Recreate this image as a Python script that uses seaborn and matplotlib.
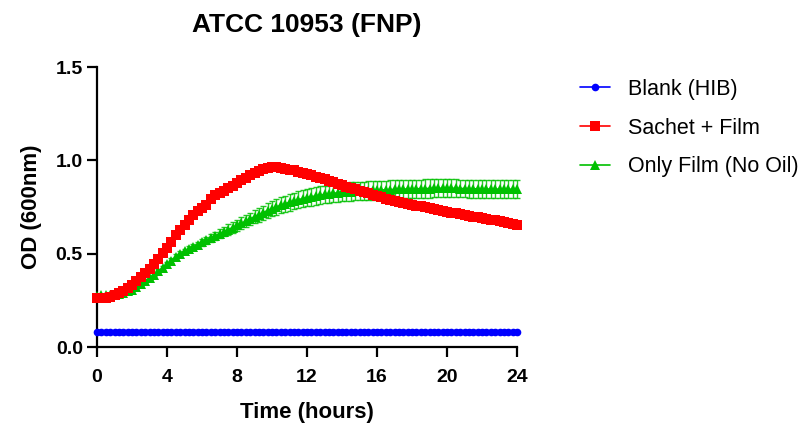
import numpy as np
import pandas as pd
import matplotlib
matplotlib.use("Agg")
import matplotlib.pyplot as plt
import seaborn as sns

# sampling every 15 min over 24 h
hours = np.arange(0, 24.25, 0.25)

blank_hib = [
    0.081, 0.081, 0.080, 0.080, 0.080, 0.080, 0.080, 0.080,
    0.080, 0.080, 0.080, 0.080, 0.080, 0.080, 0.080, 0.080,
    0.080, 0.080, 0.080, 0.080, 0.080, 0.080, 0.080, 0.080,
    0.080, 0.080, 0.080, 0.080, 0.080, 0.080, 0.080, 0.080,
    0.080, 0.080, 0.080, 0.080, 0.080, 0.080, 0.080, 0.080,
    0.080, 0.080, 0.080, 0.080, 0.080, 0.080, 0.080, 0.080,
    0.080, 0.080, 0.080, 0.080, 0.080, 0.080, 0.080, 0.080,
    0.080, 0.080, 0.080, 0.080, 0.080, 0.080, 0.080, 0.080,
    0.080, 0.080, 0.080, 0.080, 0.080, 0.080, 0.080, 0.080,
    0.080, 0.080, 0.080, 0.080, 0.080, 0.080, 0.080, 0.080,
    0.080, 0.080, 0.080, 0.080, 0.080, 0.080, 0.080, 0.080,
    0.080, 0.080, 0.080, 0.080, 0.080, 0.080, 0.080, 0.080,
    0.080,
]

sachet_film = [
    0.262, 0.262, 0.264, 0.270, 0.278, 0.288, 0.300, 0.316,
    0.334, 0.354, 0.375, 0.396, 0.418, 0.444, 0.472, 0.502,
    0.533, 0.565, 0.598, 0.628, 0.655, 0.682, 0.708, 0.728,
    0.742, 0.762, 0.795, 0.812, 0.826, 0.838, 0.850, 0.864,
    0.880, 0.895, 0.908, 0.920, 0.932, 0.943, 0.952, 0.958,
    0.962, 0.962, 0.960, 0.955, 0.950, 0.946, 0.940, 0.933,
    0.926, 0.919, 0.912, 0.905, 0.898, 0.890, 0.882, 0.874,
    0.866, 0.859, 0.852, 0.845, 0.837, 0.830, 0.823, 0.816,
    0.809, 0.802, 0.795, 0.788, 0.781, 0.775, 0.770, 0.766,
    0.762, 0.758, 0.753, 0.748, 0.743, 0.738, 0.733, 0.728,
    0.724, 0.720, 0.716, 0.712, 0.707, 0.703, 0.699, 0.695,
    0.690, 0.686, 0.682, 0.678, 0.673, 0.669, 0.665, 0.660,
    0.655,
]

only_film = [
    0.275, 0.276, 0.277, 0.278, 0.280, 0.284, 0.290, 0.298,
    0.308, 0.320, 0.335, 0.352, 0.370, 0.388, 0.405, 0.424,
    0.442, 0.462, 0.482, 0.498, 0.512, 0.524, 0.537, 0.548,
    0.560, 0.572, 0.584, 0.596, 0.607, 0.618, 0.629, 0.640,
    0.651, 0.662, 0.674, 0.686, 0.698, 0.709, 0.720, 0.731,
    0.741, 0.750, 0.759, 0.767, 0.775, 0.782, 0.789, 0.795,
    0.800, 0.805, 0.809, 0.813, 0.817, 0.820, 0.823, 0.826,
    0.829, 0.831, 0.833, 0.835, 0.836, 0.837, 0.838, 0.839,
    0.840, 0.841, 0.842, 0.843, 0.844, 0.845, 0.846, 0.846,
    0.847, 0.848, 0.848, 0.849, 0.849, 0.850, 0.850, 0.850,
    0.850, 0.850, 0.850, 0.849, 0.849, 0.848, 0.848, 0.847,
    0.847, 0.846, 0.846, 0.846, 0.845, 0.845, 0.845, 0.845,
    0.845,
]

only_film_sd = [
    0.010, 0.010, 0.009, 0.009, 0.009, 0.009, 0.009, 0.009,
    0.009, 0.009, 0.010, 0.010, 0.010, 0.010, 0.011, 0.011,
    0.012, 0.013, 0.014, 0.015, 0.015, 0.016, 0.016, 0.017,
    0.018, 0.019, 0.021, 0.022, 0.024, 0.026, 0.028, 0.030,
    0.031, 0.032, 0.033, 0.034, 0.036, 0.037, 0.038, 0.039,
    0.040, 0.041, 0.042, 0.043, 0.044, 0.045, 0.045, 0.046,
    0.046, 0.047, 0.047, 0.047, 0.048, 0.048, 0.048, 0.048,
    0.048, 0.048, 0.049, 0.049, 0.049, 0.049, 0.049, 0.049,
    0.049, 0.049, 0.049, 0.049, 0.049, 0.049, 0.049, 0.049,
    0.049, 0.049, 0.049, 0.049, 0.049, 0.049, 0.049, 0.049,
    0.049, 0.049, 0.048, 0.048, 0.048, 0.048, 0.048, 0.048,
    0.048, 0.048, 0.048, 0.048, 0.048, 0.048, 0.048, 0.048,
    0.048,
]

df = pd.DataFrame({
    'hours': hours,
    'blank': blank_hib,
    'sachet': sachet_film,
    'film': only_film,
    'film_sd': only_film_sd,
})

sns.set_theme(style='ticks')
plt.rcParams['font.family'] = ['Liberation Sans', 'DejaVu Sans']
plt.rcParams['text.color'] = 'black'
plt.rcParams['axes.labelcolor'] = 'black'
plt.rcParams['xtick.color'] = 'black'
plt.rcParams['ytick.color'] = 'black'

fig = plt.figure(figsize=(8.07, 4.24), dpi=100)
ax = fig.add_axes([97 / 807, 1 - 347 / 424, 420 / 807, 280 / 424])

green = '#00C000'

# Only Film with SD error bars (drawn first, red sits on top)
ax.errorbar(df['hours'], df['film'], yerr=df['film_sd'], fmt='none',
            ecolor=green, elinewidth=1.0, capsize=2.4, capthick=1.0,
            alpha=0.85, clip_on=False, zorder=2)
sns.lineplot(x='hours', y='film', data=df, ax=ax, color=green, marker='^',
             markersize=6.5, markeredgewidth=0, linewidth=1.2,
             label='Only Film (No Oil)', clip_on=False, zorder=3)

sns.lineplot(x='hours', y='sachet', data=df, ax=ax, color='#FF0000', marker='s',
             markersize=6.5, markeredgewidth=0, linewidth=1.2,
             label='Sachet + Film', clip_on=False, zorder=4)

sns.lineplot(x='hours', y='blank', data=df, ax=ax, color='#0000FF', marker='o',
             markersize=5.5, markeredgewidth=0, linewidth=1.2,
             label='Blank (HIB)', clip_on=False, zorder=4)

ax.set_xlim(0, 24)
ax.set_ylim(0, 1.5)
ax.set_xticks([0, 4, 8, 12, 16, 20, 24])
ax.set_yticks([0.0, 0.5, 1.0, 1.5])
ax.set_yticklabels(['0.0', '0.5', '1.0', '1.5'])
sns.despine(ax=ax)
for side in ['left', 'bottom']:
    ax.spines[side].set_linewidth(1.6)
    ax.spines[side].set_color('black')
ax.tick_params(axis='both', length=7.2, width=1.6, color='black',
               labelcolor='black', labelsize=14)
ax.tick_params(axis='x', pad=9)
ax.tick_params(axis='y', pad=3)
for lbl in ax.get_xticklabels() + ax.get_yticklabels():
    lbl.set_fontweight('bold')

ax.set_xlabel('Time (hours)', fontsize=16, fontweight='bold', labelpad=11)
ax.set_ylabel('OD (600nm)', fontsize=16, fontweight='bold', labelpad=10)
ax.set_title('ATCC 10953 (FNP)', fontsize=19, fontweight='bold', pad=25)

handles, labels = ax.get_legend_handles_labels()
order = ['Blank (HIB)', 'Sachet + Film', 'Only Film (No Oil)']
hmap = dict(zip(labels, handles))
ax.get_legend().remove()
fig.legend([hmap[k] for k in order], order, loc='upper left',
           bbox_to_anchor=(580 / 807, 1 - 79 / 424), frameon=False,
           fontsize=15.5, labelspacing=0.82, handlelength=1.4,
           handletextpad=0.84, borderpad=0, borderaxespad=0)

fig.savefig('out.png', dpi=100)
